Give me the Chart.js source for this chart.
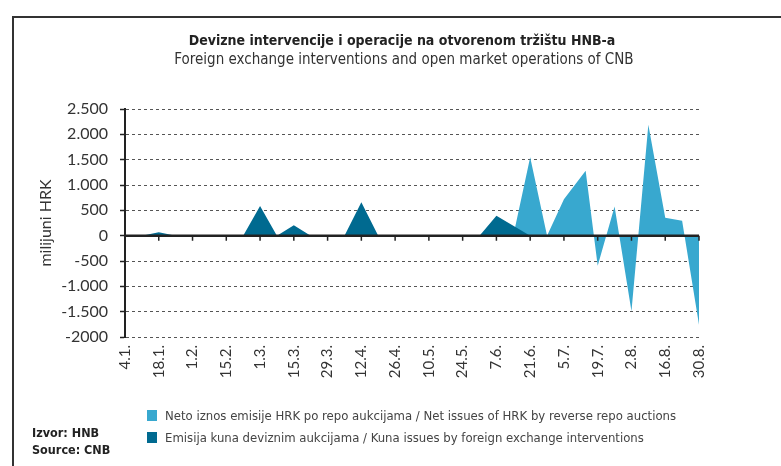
<!DOCTYPE html>
<html>
<head>
<meta charset="utf-8">
<script src="https://cdn.jsdelivr.net/npm/chart.js@4"></script>
<style>
    html, body { margin: 0; padding: 0; background: #fff; }
    #wrap { position: relative; width: 781px; height: 466px; overflow: hidden; }
    #frame { position: absolute; left: 12px; top: 16px; width: 800px; height: 480px; border-left: 2px solid #333; border-top: 2px solid #333; }
    .narrow { font-family: 'Liberation Sans Narrow', 'DejaVu Sans Condensed', sans-serif; color: #222; }
    #title { position: absolute; left: 402px; top: 32px; transform: translateX(-50%); white-space: nowrap; font-weight: bold; font-size: 14px; }
    #subtitle { position: absolute; left: 404px; top: 50px; transform: translateX(-50%); white-space: nowrap; font-size: 15px; color: #333; }
    .legend-row { position: absolute; left: 147px; font-size: 13px; color: #444; white-space: nowrap; display: flex; align-items: center; }
    .legend-row span.box { display: inline-block; width: 10px; height: 11px; margin-right: 8px; }
    #source { position: absolute; left: 32px; top: 424px; font-weight: bold; font-size: 12.5px; line-height: 17px; }
</style>
</head>
<body>
<div id="wrap">
    <div id="frame"></div>
    <canvas id="chart" width="781" height="466" style="position:absolute;left:0;top:0;"></canvas>
    <div id="title" class="narrow">Devizne intervencije i operacije na otvorenom tržištu HNB-a</div>
    <div id="subtitle" class="narrow">Foreign exchange interventions and open market operations of CNB</div>
    <div class="legend-row narrow" style="top:408px;"><span class="box" style="background:#38a8cf"></span>Neto iznos emisije HRK po repo aukcijama / Net issues of HRK by reverse repo auctions</div>
    <div class="legend-row narrow" style="top:430px;"><span class="box" style="background:#006a90"></span>Emisija kuna deviznim aukcijama / Kuna issues by foreign exchange interventions</div>
    <div id="source" class="narrow">Izvor: HNB<br>Source: CNB</div>
</div>
<script>
// datumi (tjedni), milijuni HRK
const dates = ['4.1.', '11.1.', '18.1.', '25.1.', '1.2.', '8.2.', '15.2.', '22.2.', '1.3.', '8.3.',
    '15.3.', '22.3.', '29.3.', '5.4.', '12.4.', '19.4.', '26.4.', '3.5.', '10.5.', '17.5.',
    '24.5.', '31.5.', '7.6.', '14.6.', '21.6.', '28.6.', '5.7.', '14.7.', '19.7.', '26.7.',
    '2.8.', '9.8.', '16.8.', '23.8.', '30.8.'];

const repoIssues = [0, 0, 0, 0, 0, 0, 0, 0, 0, 0,
    0, 0, 0, 0, 0, 0, 0, 0, 0, 0,
    0, 0, 0, 0, 1550, 0, 720, 1280, -595, 575,
    -1490, 2190, 355, 295, -1760];

const fxIssues = [0, 0, 68, 0, 0, 0, 0, 0, 585, 0,
    205, 0, 0, 0, 660, 0, 0, 0, 0, 0,
    0, 0, 395, 195, 0, 0, 0, 0, 0, 0,
    0, 0, 0, 0, 0];

const xTickLabels = ['4.1.', '18.1.', '1.2.', '15.2.', '1.3.', '15.3.', '29.3.', '12.4.', '26.4.',
    '10.5.', '24.5.', '7.6.', '21.6.', '5.7.', '19.7.', '2.8.', '16.8.', '30.8.'];
const yTicks = [2500, 2000, 1500, 1000, 500, 0, -500, -1000, -1500, -2000];
const yTickLabels = ['2.500', '2.000', '1.500', '1.000', '500', '0', '-500', '-1.000', '-1.500', '-2000'];

const colorRepo = '#38a8cf';
const colorFx = '#006a90';

// dani od 4.1.
function dayOf(str) {
    const [d, m] = str.split('.').map(Number);
    return (Date.UTC(2010, m - 1, d) - Date.UTC(2010, 0, 4)) / 86400000;
}

const toPoints = (values) => dates.map((d, i) => ({ x: dayOf(d), y: values[i] }));
const tickDays = xTickLabels.map(dayOf);

// nulta linija i oznake preko povrsina
const zeroLinePlugin = {
    id: 'zeroLine',
    afterDatasetsDraw(chart) {
        const { ctx, chartArea, scales: { x, y } } = chart;
        const y0 = y.getPixelForValue(0);
        ctx.save();
        ctx.strokeStyle = '#222';
        ctx.lineWidth = 2.5;
        ctx.beginPath();
        ctx.moveTo(chartArea.left, y0);
        ctx.lineTo(chartArea.right, y0);
        ctx.stroke();
        ctx.lineWidth = 1.5;
        ctx.beginPath();
        tickDays.forEach(d => {
            const px = x.getPixelForValue(d);
            ctx.moveTo(px, y0);
            ctx.lineTo(px, y0 + 5);
        });
        ctx.stroke();
        ctx.restore();
    }
};

const tickFamily = "Lato, 'Open Sans', sans-serif";

new Chart(document.getElementById('chart').getContext('2d'), {
    type: 'line',
    data: {
        datasets: [
            {
                label: 'Neto iznos emisije HRK po repo aukcijama / Net issues of HRK by reverse repo auctions',
                data: toPoints(repoIssues),
                backgroundColor: colorRepo,
                borderWidth: 0,
                fill: 'origin',
                pointRadius: 0,
                tension: 0,
                order: 2
            },
            {
                label: 'Emisija kuna deviznim aukcijama / Kuna issues by foreign exchange interventions',
                data: toPoints(fxIssues),
                backgroundColor: colorFx,
                borderWidth: 0,
                fill: 'origin',
                pointRadius: 0,
                tension: 0,
                order: 1
            }
        ]
    },
    options: {
        responsive: false,
        animation: false,
        layout: { padding: { top: 109, right: 82, left: 0, bottom: 0 } },
        plugins: {
            legend: { display: false },
            tooltip: { enabled: false }
        },
        scales: {
            x: {
                type: 'linear',
                min: 0,
                max: dayOf('30.8.'),
                afterBuildTicks: (scale) => {
                    scale.ticks = tickDays.map(v => ({ value: v }));
                },
                afterFit: (scale) => { scale.height = 466 - 337; },
                grid: { display: false, drawTicks: false },
                border: { display: false },
                ticks: {
                    autoSkip: false,
                    minRotation: 90,
                    maxRotation: 90,
                    padding: 8,
                    color: '#333',
                    font: { family: tickFamily, size: 15 },
                    callback: (value, index) => xTickLabels[index]
                }
            },
            y: {
                min: -2000,
                max: 2500,
                afterBuildTicks: (scale) => {
                    scale.ticks = yTicks.map(v => ({ value: v }));
                },
                afterFit: (scale) => { scale.width = 125; },
                title: {
                    display: true,
                    text: 'milijuni HRK',
                    color: '#333',
                    font: { family: tickFamily, size: 16 },
                    padding: { top: 36, bottom: 0 }
                },
                grid: {
                    color: '#555',
                    lineWidth: 1,
                    tickLength: 5,
                    tickColor: '#222',
                    tickWidth: 1.5
                },
                border: {
                    display: true,
                    color: '#222',
                    width: 2,
                    dash: (ctx) => ctx.type === 'tick' ? [3, 3] : []
                },
                ticks: {
                    padding: 12,
                    color: '#333',
                    font: { family: tickFamily, size: 16 },
                    callback: (value) => yTickLabels[yTicks.indexOf(value)]
                }
            }
        }
    },
    plugins: [zeroLinePlugin]
});
</script>
</body>
</html>
